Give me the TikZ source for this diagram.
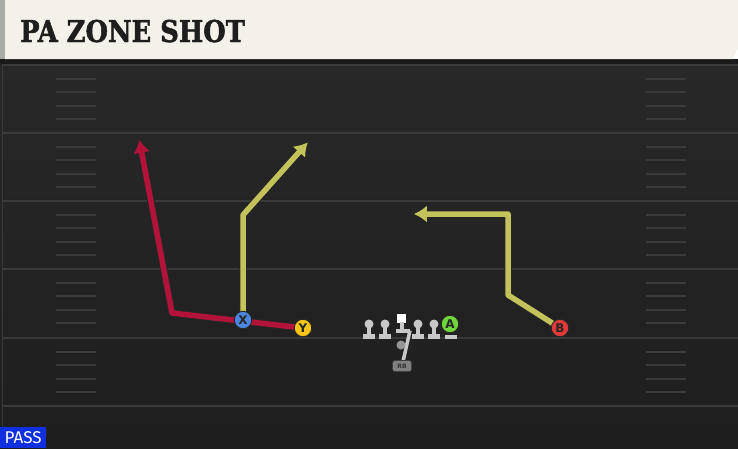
\documentclass[tikz,border=0pt]{standalone}
\usepackage{fontspec}
\setmainfont{DejaVu Sans}
\newfontfamily\titlefont[FakeStretch=0.86,FakeBold=1.6]{DejaVu Serif}
\newfontfamily\tagfont{Fira Sans}
\usetikzlibrary{positioning,arrows.meta}

\definecolor{fieldtop}{HTML}{282828}
\definecolor{fieldbot}{HTML}{1E1E1E}
\definecolor{yardgray}{HTML}{3A3A3A}
\definecolor{cream}{HTML}{F4F1EA}
\definecolor{edgegray}{HTML}{A8ABA8}
\definecolor{titleink}{HTML}{1E1E1E}
\definecolor{redroute}{HTML}{B3123A}
\definecolor{yelroute}{HTML}{C3C35B}
\definecolor{xblue}{HTML}{4A86E0}
\definecolor{yyellow}{HTML}{F5C518}
\definecolor{bred}{HTML}{E23A3A}
\definecolor{agreen}{HTML}{6FD63C}
\definecolor{lmgray}{HTML}{C8C8C8}
\definecolor{passblue}{HTML}{1030E0}

\pgfdeclarelayer{field}
\pgfdeclarelayer{routes}
\pgfsetlayers{field,routes,main}

\begin{document}
\begin{tikzpicture}[x=1pt, y=-1pt, node distance=8pt]
            % Set primary nodes
            \tikzset{
                player/.style={
                        circle,
                        draw=black!85,
                        line width=0.9pt,
                        minimum size=17.5pt,
                        inner sep=0pt,
                        text=black!85,
                        font=\bfseries\fontsize{12}{12}\selectfont
                    }
            }
            \tikzset{
                head/.style={
                        circle,
                        fill=lmgray,
                        minimum size=9pt,
                        inner sep=0pt
                    }
            }
            \tikzset{
                lineman/.pic={
                        \fill[lmgray] (-2,0) rectangle (2,12);
                        \fill[lmgray] (-6,10) rectangle (6,14.5);
                        \node[head] (-h) at (0,0) {};
                    }
            }
            \tikzset{
                yardline/.style={draw=yardgray, line width=1.6pt},
                hash/.style={draw=yardgray, line width=1.4pt}
            }
            % Configure routes
            \tikzset{
                route/.style={
                        line width=5.5pt,
                        line join=round,
                        shorten >=1.8pt,
                        -{Latex[length=13pt,width=17pt]},
                        preaction={draw=black!85, line width=7.5pt, shorten >=0pt,
                            -{Latex[length=16pt,width=20.5pt]}}
                    }
            }
            \useasboundingbox (0,0) rectangle (738,448);
            % Field
            \begin{pgfonlayer}{field}
                \shade[top color=fieldtop, bottom color=fieldbot] (0,59) rectangle (738,448);
                \fill[black!90] (0,59) rectangle (738,64);
                \draw[yardgray, line width=1pt] (2.5,64) -- (2.5,448);
                \foreach \y in {65,133,201,269,338,406} {
                    \draw[yardline] (3,\y) -- (738,\y);
                }
                \foreach \y in {65,133,201,269,338} {
                    \foreach \k in {14,27,41,54} {
                        \draw[hash] (56,\y+\k) -- (96,\y+\k);
                        \draw[hash] (646,\y+\k) -- (686,\y+\k);
                    }
                }
                % Header
                \fill[edgegray] (0,0) rectangle (5,59);
                \fill[cream] (5,0) -- (738,0) -- (738,49) -- (732,59) -- (5,59) -- cycle;
            \end{pgfonlayer}
            \node[anchor=base west, inner sep=0pt, text=titleink,
                font=\titlefont\bfseries\fontsize{30}{30}\selectfont] (title) at (20,42) {PA ZONE SHOT};
            % Placing players
            \node[player, fill=xblue] (X) at (243,320) {X};
            \node[player, fill=yyellow] (Y) at (303,328) {Y};
            \node[player, fill=bred] (B) at (560,328) {B};
            \pic (lt) at (369,324) {lineman};
            \pic (lg) at (385,324) {lineman};
            \node[rectangle, fill=white, minimum size=9pt, inner sep=0pt] (C) at (401.5,318) {};
            \fill[lmgray] (399.5,322) rectangle (403.5,331);
            \fill[lmgray] (395.5,328.5) rectangle (410,332.5);
            \coordinate (snap) at (410,330.5);
            \pic (rg) at (418,324) {lineman};
            \pic (rt) at (434,324) {lineman};
            \fill[lmgray] (444.5,334.5) rectangle (456.5,339);
            \node[player, fill=agreen] (A) at (450,324) {A};
            \node[circle, fill=lmgray!75!black, minimum size=9pt, inner sep=0pt] (QB) at (401,345) {};
            \node[rectangle, rounded corners=2.5pt, fill=gray, draw=black!75, line width=0.7pt,
                minimum width=19pt, minimum height=11pt, inner sep=0pt, text=black!80,
                font=\bfseries\fontsize{6}{6}\selectfont] (RB) at (402,366) {RB};
            % Draw routes
            \coordinate (rcut) at (172,313);
            \coordinate (rend) at (139,138);
            \coordinate (xcut) at (243,215);
            \coordinate (xend) at (309,141);
            \coordinate (bcut) at (508,295);
            \coordinate (btop) at (508,214);
            \coordinate (bend) at (412,214);
            \begin{pgfonlayer}{routes}
                \draw[route, redroute] (Y.center) -- (rcut) -- (rend);
                \draw[route, yelroute] (X.center) -- (xcut) -- (xend);
                \draw[route, yelroute] (B.center) -- (bcut) -- (btop) -- (bend);
                \draw[lmgray, line width=3.5pt] (snap) -- (RB);
            \end{pgfonlayer}
            % Play tag
            \node[anchor=south west, fill=passblue, text=white, inner sep=0pt,
                minimum width=46pt, minimum height=21pt,
                font=\tagfont\fontsize{17}{17}\selectfont] (tag) at (0,448) {PASS};
        \end{tikzpicture}
\end{document}
